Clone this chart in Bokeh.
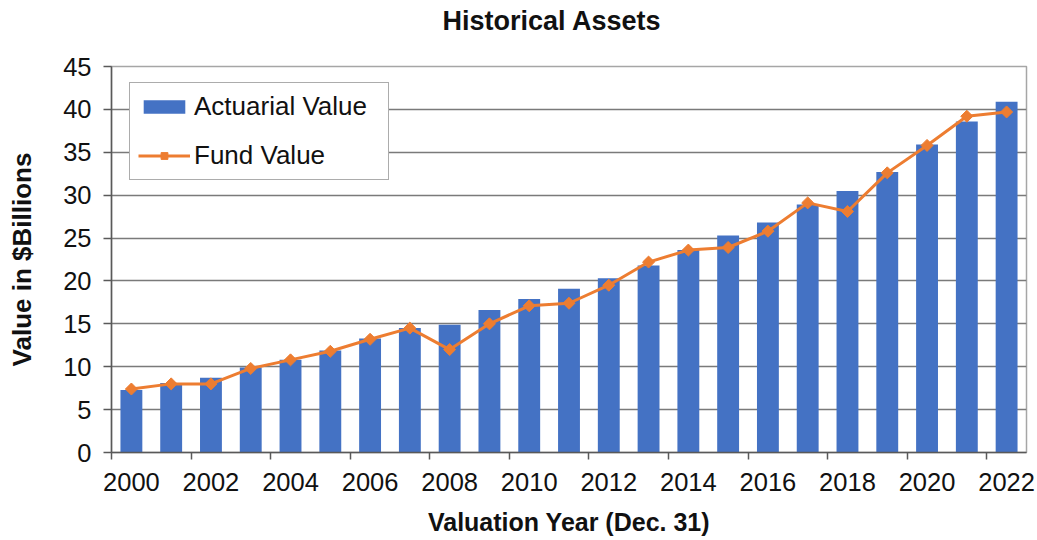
from bokeh.plotting import figure
from bokeh.models import (Range1d, FixedTicker, Legend, LegendItem, Title, ColumnDataSource)
from bokeh.embed import file_html
from bokeh.resources import INLINE
import numpy as np

# ---- data ----
years = list(range(2000, 2023))
actuarial_value = [7.3, 8.1, 8.7, 9.9, 10.8, 11.9, 13.3, 14.5, 14.9, 16.6, 17.9, 19.1,
                   20.3, 21.8, 23.6, 25.3, 26.8, 28.9, 30.5, 32.7, 35.9, 38.6, 40.9]
fund_value = [7.4, 8.0, 8.0, 9.8, 10.8, 11.8, 13.2, 14.5, 12.0, 15.0, 17.1, 17.4,
              19.5, 22.2, 23.6, 23.9, 25.8, 29.1, 28.1, 32.6, 35.8, 39.2, 39.7]
x_label_years = list(range(2000, 2023, 2))
y_ticks = [0, 5, 10, 15, 20, 25, 30, 35, 40, 45]

title_text = "Historical Assets"
x_title = "Valuation Year (Dec. 31)"
y_title = "Value in $Billions"

FONT = "Liberation Sans"
BAR_COLOR = "#4472C4"
LINE_COLOR = "#ED7D31"
TEXT_COLOR = "#111111"
AXIS_COLOR = "#595959"

src = ColumnDataSource(dict(year=years, act=actuarial_value, fund=fund_value))

p = figure(width=1037, height=540,
           min_border_left=111, min_border_right=11, min_border_top=66, min_border_bottom=88,
           x_range=Range1d(years[0] - 0.5, years[-1] + 0.5), y_range=Range1d(0, 45),
           output_backend="svg", toolbar_location=None)
p.background_fill_color = "white"
p.border_fill_color = "white"
p.outline_line_color = "#a6a6a6"
p.outline_line_width = 1.5

bars = p.vbar(x="year", top="act", width=0.55, source=src, fill_color=BAR_COLOR,
              line_color=None)
line_r = p.line(x="year", y="fund", source=src, line_color=LINE_COLOR, line_width=3)
mark_r = p.scatter(x="year", y="fund", source=src, marker="square", angle=np.pi / 4,
                   size=8.5, fill_color=LINE_COLOR, line_color=LINE_COLOR)

# title: a small spacer next to the frame, then the title itself on top
spacer = Title(text=" ", text_font=FONT, text_font_size="8px", standoff=17.7)
p.add_layout(spacer, "above")
t = Title(text=title_text, align="left", offset=331, standoff=0, vertical_align="top",
          text_font=FONT, text_font_size="27px", text_font_style="bold", text_color=TEXT_COLOR)
p.add_layout(t, "above")

# x axis
xa = p.xaxis[0]
xa.ticker = FixedTicker(ticks=x_label_years, minor_ticks=[y - 0.5 for y in x_label_years])
xa.major_label_overrides = {y: str(y) for y in x_label_years}
xa.major_tick_in = 0
xa.major_tick_out = 0
xa.minor_tick_in = 0
xa.minor_tick_out = 7
xa.minor_tick_line_color = AXIS_COLOR
xa.minor_tick_line_width = 1.5
xa.axis_line_color = AXIS_COLOR
xa.axis_line_width = 1.5
xa.major_label_standoff = 13
xa.major_label_text_font = FONT
xa.major_label_text_font_size = "25.5px"
xa.major_label_text_color = TEXT_COLOR
xa.axis_label = x_title
xa.axis_label_text_font = FONT
xa.axis_label_text_font_size = "25px"
xa.axis_label_text_font_style = "bold"
xa.axis_label_text_color = TEXT_COLOR
xa.axis_label_standoff = 14

# y axis
ya = p.yaxis[0]
ya.ticker = FixedTicker(ticks=y_ticks, minor_ticks=[])
ya.major_tick_in = 0
ya.major_tick_out = 8
ya.major_tick_line_color = AXIS_COLOR
ya.major_tick_line_width = 1.5
ya.axis_line_color = AXIS_COLOR
ya.axis_line_width = 1.5
ya.major_label_standoff = 12
ya.major_label_text_font = FONT
ya.major_label_text_font_size = "25.5px"
ya.major_label_text_color = TEXT_COLOR
ya.axis_label = y_title
ya.axis_label_text_font = FONT
ya.axis_label_text_font_size = "26px"
ya.axis_label_text_font_style = "bold"
ya.axis_label_text_color = TEXT_COLOR
ya.axis_label_standoff = 23

# grids
p.xgrid.visible = False
p.ygrid.ticker = FixedTicker(ticks=y_ticks)
p.ygrid.grid_line_color = "#7a7a7a"
p.ygrid.grid_line_width = 1.3

# legend
legend = Legend(items=[LegendItem(label="Actuarial Value", renderers=[bars]),
                       LegendItem(label="Fund Value", renderers=[line_r, mark_r])],
                location=(18, 272), margin=0, padding=8, spacing=18,
                glyph_width=52, glyph_height=17, label_height=17, label_width=186,
                label_standoff=4,
                label_text_font=FONT, label_text_font_size="26px", label_text_color=TEXT_COLOR,
                border_line_color=AXIS_COLOR, border_line_width=1.3,
                background_fill_color="white", background_fill_alpha=1.0)
p.add_layout(legend, "center")

open("out.html", "w").write(file_html(p, INLINE))
